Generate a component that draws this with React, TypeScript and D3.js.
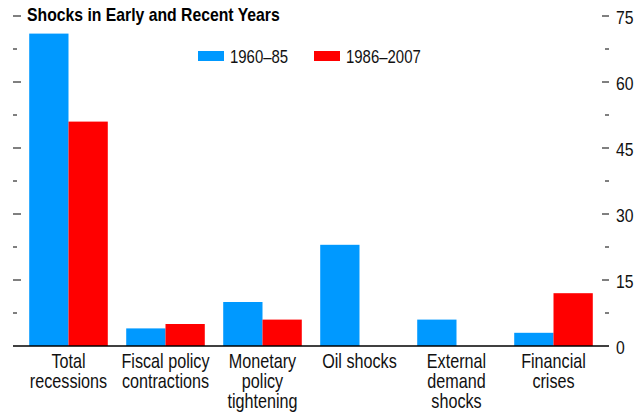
import React, { useEffect, useRef } from 'react';
import * as d3 from 'd3';

// categories (multi-line labels) and values per period
const categories: string[][] = [
  ['Total', 'recessions'],
  ['Fiscal policy', 'contractions'],
  ['Monetary', 'policy', 'tightening'],
  ['Oil shocks'],
  ['External', 'demand', 'shocks'],
  ['Financial', 'crises'],
];
const seriesNames = ['1960–85', '1986–2007'];
const early = [71, 4, 10, 23, 6, 3];
const recent = [51, 5, 6, 0, 0, 12];
const majorTicks = [0, 15, 30, 45, 60, 75];
const minorTicks = [7.5, 22.5, 37.5, 52.5, 67.5];

const colors = ['#0099ff', '#ff0000'];
const font = "'Liberation Sans', Arial, sans-serif";
const narrow = 0.83; // horizontal squeeze to mimic a condensed face

const App: React.FC = () => {
  const svgRef = useRef<SVGSVGElement>(null);

  useEffect(() => {
    if (!svgRef.current) return;
    const width = 638;
    const height = 417;
    const left = 13;
    const right = 609;

    const svg = d3.select(svgRef.current).attr('width', width).attr('height', height);
    svg.selectAll('*').remove();

    const keys = categories.map((c) => c.join(' '));
    const x0 = d3.scaleBand().domain(keys).range([20, 602]).paddingInner(0.19).paddingOuter(0.095);
    const x1 = d3.scaleBand().domain(seriesNames).range([0, x0.bandwidth()]);
    const y = d3.scaleLinear().domain([0, 75]).range([346, 16]);

    const rows = keys.map((k, i) => ({ key: k, values: [early[i], recent[i]] }));

    // condensed text helper
    const label = (x: number, yy: number, size: number, anchor = 'start') =>
      svg.append('g')
        .attr('transform', `translate(${x},${yy}) scale(${narrow},1)`)
        .append('text')
        .attr('text-anchor', anchor)
        .attr('font-family', font)
        .attr('font-size', size)
        .attr('fill', '#111');

    // bars
    const groups = svg.append('g')
      .selectAll('g')
      .data(rows)
      .join('g')
      .attr('transform', (d) => `translate(${x0(d.key)},0)`);
    groups.selectAll('rect')
      .data((d) => d.values.map((v, j) => ({ name: seriesNames[j], v, j })))
      .join('rect')
      .attr('x', (d) => x1(d.name)!)
      .attr('y', (d) => y(d.v))
      .attr('width', x1.bandwidth())
      .attr('height', (d) => y(0) - y(d.v))
      .attr('fill', (d) => colors[d.j]);

    // baseline
    svg.append('line')
      .attr('x1', left).attr('x2', right)
      .attr('y1', y(0)).attr('y2', y(0))
      .attr('stroke', '#000').attr('stroke-width', 1.5);

    // ticks left and right
    const tickG = svg.append('g').attr('stroke', '#000').attr('stroke-width', 1);
    majorTicks.filter((t) => t > 0).forEach((t) => {
      tickG.append('line').attr('x1', left).attr('x2', left + 8).attr('y1', y(t)).attr('y2', y(t));
      tickG.append('line').attr('x1', right - 7).attr('x2', right).attr('y1', y(t)).attr('y2', y(t));
    });
    minorTicks.forEach((t) => {
      tickG.append('line').attr('x1', left).attr('x2', left + 4).attr('y1', y(t)).attr('y2', y(t));
      tickG.append('line').attr('x1', right - 4).attr('x2', right).attr('y1', y(t)).attr('y2', y(t));
    });

    // right tick labels
    majorTicks.forEach((t) => {
      label(616, y(t) + 1, 19).attr('dy', '0.35em').text(t);
    });

    // category labels
    rows.forEach((r, i) => {
      const t = label(x0(r.key)! + x0.bandwidth() / 2, 368, 19.5, 'middle');
      t.selectAll('tspan')
        .data(categories[i])
        .join('tspan')
        .attr('x', 0)
        .attr('dy', (_d, k) => (k === 0 ? 0 : 20))
        .text((d) => d);
    });

    // title
    label(27, 21, 19)
      .attr('font-weight', 'bold')
      .attr('fill', '#000')
      .text('Shocks in Early and Recent Years');

    // legend
    const legendX = [198, 314];
    seriesNames.forEach((name, i) => {
      svg.append('rect')
        .attr('x', legendX[i]).attr('y', 51)
        .attr('width', 26).attr('height', 10)
        .attr('fill', colors[i]);
      label(legendX[i] + 32, 63, 18).text(name);
    });
  }, []);

  return <svg ref={svgRef} style={{ position: 'absolute', left: 0, top: 0 }}></svg>;
};

export default App;
